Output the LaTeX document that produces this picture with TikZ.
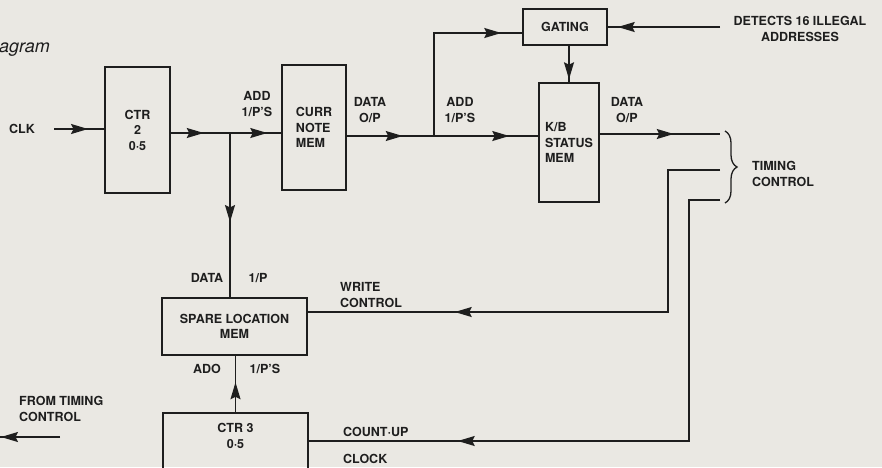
\documentclass[tikz,border=0pt]{standalone}
\usepackage{fontspec}
\setmainfont{TeX Gyre Heros}
\usetikzlibrary{arrows.meta,positioning,decorations.markings,decorations.pathreplacing}
\definecolor{paper}{RGB}{234,232,227}
\definecolor{ink}{RGB}{30,30,30}
\tikzset{
  box/.style={draw=ink,line width=1.5pt,align=center,text=ink,inner sep=2pt,
              font=\bfseries\fontsize{12.5}{15.5}\selectfont},
  lbl/.style={text=ink,align=center,inner sep=1pt,
              font=\bfseries\fontsize{12.5}{15.5}\selectfont},
  wire/.style={draw=ink,line width=1.6pt},
  arr at/.style={postaction={decorate,decoration={markings,
      mark=at position #1 with {\arrow{Stealth[length=17pt,width=10pt,inset=2.5pt]}}}}}
}

\begin{document}
\begin{tikzpicture}[x=1pt,y=-1pt]
  %% page
  \clip (0,0) rectangle (882,467);
  \fill[paper] (0,0) rectangle (882,467);
  \node[anchor=west,inner sep=0,text=ink,font=\itshape\fontsize{18}{20}\selectfont]
       (title) at (-1,50) {agram};
  %% Blocks
  \node[box,minimum width=65pt,minimum height=126pt] (ctr2) at (137.5,130) {CTR\\2\\0·5};
  \node[box,minimum width=64pt,minimum height=125pt,align=left] (curr) at (314,127.5)
       {CURR\\NOTE\\MEM};
  \node[box,minimum width=84pt,minimum height=36pt] (gating) at (565,27) {GATING};
  \node[box,minimum width=60pt,minimum height=119pt,align=left] (kb) at (569,142.5)
       {K/B\\STATUS\\MEM};
  \node[box,minimum width=145pt,minimum height=57pt] (spare) at (234.5,326.5)
       {SPARE LOCATION\\MEM};
  \node[box,minimum width=145pt,minimum height=70pt] (ctr3) at (235.5,448) {};
  \node[lbl,below=10pt of ctr3.north] (ctr3txt) {CTR 3\\0·5};
  %% Labels
  \node[lbl] (clk) at (22,129) {CLK};
  \node[lbl] (add1) at (257,104) {ADD\\1/P'S};
  \node[lbl] (data1) at (370,110) {DATA\\O/P};
  \node[lbl] (add2) at (460,110) {ADD\\1/P'S};
  \node[lbl] (data2) at (627,110) {DATA\\O/P};
  \node[lbl] (detect) at (800,29) {DETECTS 16 ILLEGAL\\ADDRESSES};
  \node[lbl,align=left,anchor=west] (timing) at (751,174) {TIMING\\CONTROL};
  \node[lbl] (datain) at (207,278) {DATA};
  \node[lbl] (ipin) at (258,278) {1/P};
  \node[lbl,align=left,anchor=west] (write) at (339,295) {WRITE\\CONTROL};
  \node[lbl] (addo) at (207,369) {ADO};
  \node[lbl] (ips) at (265,369) {1/P'S};
  \node[lbl,anchor=west] (countup) at (342,432) {COUNT·UP};
  \node[lbl,anchor=west] (clock) at (342,459) {CLOCK};
  \node[lbl,align=left,anchor=west] (from) at (18,409) {FROM TIMING\\CONTROL};
  %% Junctions and free ends
  \coordinate (j1) at (230,133);
  \coordinate (j2) at (434,136);
  \coordinate (d1) at (720,27);
  \coordinate (t1) at (720,134);
  \coordinate (t2) at (720,170);
  \coordinate (t3) at (720,200);
  \coordinate (w1) at (668,312);
  \coordinate (c1) at (689,441);
  \coordinate (f1) at (60,437);
  \coordinate (f2) at (0,437);
  %% Connectors
  \draw[wire,arr at=34pt] ([xshift=18pt]clk.east) -- (ctr2.west |- clk);
  \draw[wire,arr at=33pt,arr at=-14pt] (ctr2.east |- j1) -- (curr.west |- j1);
  \draw[wire,arr at=89pt] (j1) -- (j1 |- spare.north);
  \draw[wire,arr at=56pt,arr at=-29pt] (curr.east |- j2) -- (kb.west |- j2);
  \draw[wire,arr at=-21pt] (j2) |- ([yshift=-6pt]gating.west);
  \draw[wire,arr at=-10pt] (d1) -- (gating.east);
  \draw[wire,arr at=-3pt] (gating.south -| kb.north) -- (kb.north);
  \draw[wire,arr at=74pt] (kb.east |- t1) -- (t1);
  \draw[wire,arr at=-147pt] (t2) -| (w1) -- (spare.east |- w1);
  \draw[wire,arr at=-149pt] (t3) -| (c1) -- (ctr3.east |- c1);
  \draw[wire,arr at=30pt] (ctr3.north) -- (spare.south -| ctr3.north);
  \draw[wire,arr at=-1pt] (f1) -- (f2);
  %% Timing control brace
  \draw[ink,line width=1.3pt,decorate,decoration={brace,amplitude=12pt}]
       (725,131) -- (725,203);
\end{tikzpicture}
\end{document}
